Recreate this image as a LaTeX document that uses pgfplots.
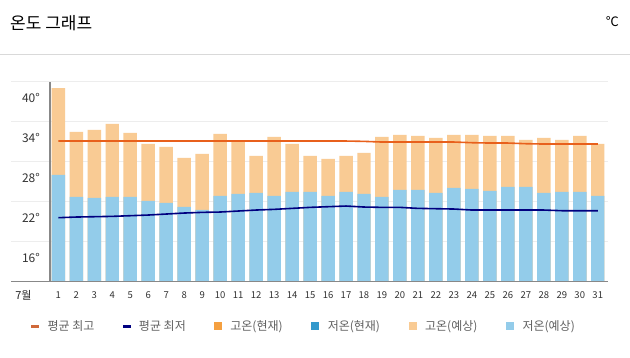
\documentclass[border=0pt]{standalone}
\usepackage{pgfplots}
\pgfplotsset{compat=1.18}
\usepackage{pgfplotstable}
\usepackage{fontspec}
\setmainfont{Noto Sans CJK KR}
\definecolor{hiexp}{HTML}{F9CB94}
\definecolor{loexp}{HTML}{93CCEA}
\definecolor{hicur}{HTML}{F5A040}
\definecolor{locur}{HTML}{3399CC}
\definecolor{avghi}{HTML}{E8601C}
\definecolor{avghileg}{HTML}{D0693A}
\definecolor{avglo}{HTML}{000080}
\definecolor{gridc}{HTML}{EDEDED}
\definecolor{sepc}{HTML}{D9D9D9}
\definecolor{axc}{HTML}{888888}
\pgfplotstableread{
day hi lo avghi avglo
1 41.45 28.41 33.5 22.0
2 34.86 25.11 33.5 22.1
3 35.16 24.96 33.5 22.15
4 36.06 25.11 33.5 22.2
5 34.71 25.11 33.5 22.3
6 33.06 24.51 33.5 22.4
7 32.61 24.21 33.5 22.55
8 30.96 23.61 33.5 22.7
9 31.56 23.16 33.5 22.8
10 34.56 25.26 33.5 22.85
11 33.51 25.56 33.5 23.0
12 31.26 25.71 33.5 23.15
13 34.11 25.26 33.5 23.25
14 33.06 25.86 33.5 23.4
15 31.26 25.86 33.5 23.55
16 30.81 25.26 33.5 23.65
17 31.26 25.86 33.5 23.75
18 31.71 25.56 33.45 23.6
19 34.11 25.11 33.35 23.55
20 34.41 26.16 33.35 23.55
21 34.26 26.16 33.35 23.4
22 33.96 25.71 33.35 23.35
23 34.41 26.46 33.35 23.3
24 34.41 26.31 33.25 23.15
25 34.26 26.01 33.2 23.15
26 34.26 26.61 33.2 23.15
27 33.66 26.61 33.1 23.15
28 33.96 25.71 33.05 23.15
29 33.66 25.86 33.05 23.05
30 34.26 25.86 33.05 23.05
31 33.06 25.26 33.05 23.05
}\temps
\begin{document}
\begin{tikzpicture}
\path[use as bounding box, fill=white] (0pt,0pt) rectangle (630pt,357pt);
\node[anchor=west, font=\fontsize{17}{17}\selectfont, inner sep=0pt] at (10pt,334pt) {온도 그래프};
\node[anchor=east, font=\fontsize{13}{13}\selectfont, inner sep=0pt] at (619pt,335pt) {℃};
\draw[color=sepc, line width=1pt] (0pt,302.8pt) -- (630pt,302.8pt);
\foreach \yy in {115.3,155.3,195.3,235.3,275.3} {
  \draw[color=gridc, line width=1.5pt] (11pt,\yy pt) -- (608pt,\yy pt);
}
\begin{axis}[
  at={(50pt,75.3pt)}, anchor=south west, scale only axis,
  width=558pt, height=200pt,
  xmin=0.538, xmax=31.57, ymin=12.4, ymax=42.4,
  axis line style={draw=none}, tick style={draw=none},
  ytick={16,22,28,34,40},
  yticklabels={16°,22°,28°,34°,40°},
  yticklabel style={anchor=east, inner sep=0pt, xshift=-10pt, font=\fontsize{12}{12}\selectfont, text=black!80},
  xtick={1,...,31},
  xticklabel style={anchor=center, inner sep=0pt, yshift=-13pt, font=\fontsize{9.5}{9.5}\selectfont, text=black!80},
  /pgf/number format/assume math mode=true,
  legend style={at={(axis description cs:-0.0341,-0.2215)}, anchor=west, draw=none, fill=none,
    legend columns=-1, font=\fontsize{12}{12}\selectfont, text=black!62,
    inner sep=0pt, nodes={inner sep=0pt},
    /tikz/every odd column/.append style={column sep=9pt},
    /tikz/every even column/.append style={column sep=26pt}},
]
\addplot[ybar, bar width=0.75, bar shift=0pt, fill=hiexp, draw=none, forget plot] table[x=day, y=hi] {\temps};
\addplot[ybar, bar width=0.75, bar shift=0pt, fill=loexp, draw=none, forget plot] table[x=day, y=lo] {\temps};
\addplot[color=avghi, line width=1.6pt, mark=none, forget plot] table[x=day, y=avghi] {\temps};
\addplot[color=avglo, line width=1.6pt, mark=none, forget plot] table[x=day, y=avglo] {\temps};
\addlegendimage{legend image code/.code={\fill[avghileg] (0pt,-1pt) rectangle (7pt,1pt);}}
\addlegendentry{\makebox[49pt][l]{평균 최고}}
\addlegendimage{legend image code/.code={\fill[avglo] (0pt,-1pt) rectangle (7pt,1pt);}}
\addlegendentry{\makebox[49pt][l]{평균 최저}}
\addlegendimage{legend image code/.code={\fill[hicur] (0pt,-3.5pt) rectangle (7pt,3.5pt);}}
\addlegendentry{\makebox[55pt][l]{고온(현재)}}
\addlegendimage{legend image code/.code={\fill[locur] (0pt,-3.5pt) rectangle (7pt,3.5pt);}}
\addlegendentry{\makebox[55pt][l]{저온(현재)}}
\addlegendimage{legend image code/.code={\fill[hiexp] (0pt,-3.5pt) rectangle (7pt,3.5pt);}}
\addlegendentry{\makebox[55pt][l]{고온(예상)}}
\addlegendimage{legend image code/.code={\fill[loexp] (0pt,-3.5pt) rectangle (7pt,3.5pt);}}
\addlegendentry{\makebox[55pt][l]{저온(예상)}}
\end{axis}
\draw[color=axc, line width=1.5pt] (50pt,75.3pt) -- (50pt,275.3pt);
\draw[color=axc, line width=1.5pt] (11pt,75.3pt) -- (608pt,75.3pt);
\node[font=\fontsize{11}{11}\selectfont, inner sep=0pt, text=black!85] at (23.5pt,62pt) {7월};
\end{tikzpicture}
\end{document}
